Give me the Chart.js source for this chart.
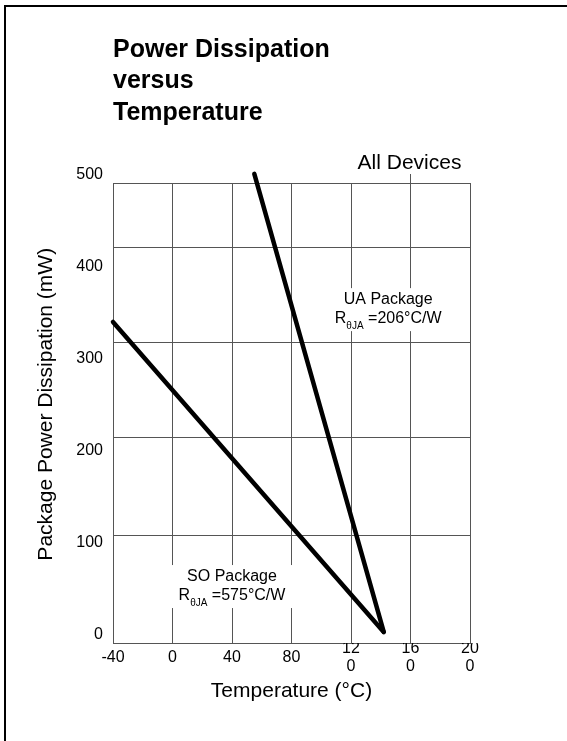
<!DOCTYPE html>
<html>
<head>
<meta charset="utf-8">
<script src="https://cdn.jsdelivr.net/npm/chart.js@4/dist/chart.umd.min.js"></script>
<style>
html,body{margin:0;padding:0;background:#fff;}
#wrap{position:relative;width:567px;height:741px;overflow:hidden;background:#fff;}
#frame{position:absolute;left:4px;top:5px;width:600px;height:800px;border-left:2px solid #000;border-top:2px solid #000;pointer-events:none;}
canvas{display:block;}
</style>
</head>
<body>
<div id="wrap"><canvas id="c" width="567" height="741"></canvas><div id="frame"></div></div>
<script>
// ---- data ----
const titleLines = ['Power Dissipation', 'versus', 'Temperature'];
const xTickValues = [-40, 0, 40, 80, 120, 160, 200];
const xTickLabels = ['-40', '0', '40', '80', ['12', '0'], ['16', '0'], ['20', '0']];
const yTickValues = [0, 100, 200, 300, 400, 500];
const yTickLabels = ['0', '100', '200', '300', '400', '500'];
const yGridValues = [0, 117, 223, 327, 430, 500];
const uaTemps = [55, 142];
const uaPower = [510, 12];
const soTemps = [-40, 142];
const soPower = [349, 12];

const FONT = "'Liberation Sans', Arial, Helvetica, sans-serif";

const notes = [
  { x: 145, y: 364, head: 'UA Package', sub: '\u03B8JA', tail: ' =206\u00B0C/W' },
  { x: 40, y: 63, head: 'SO Package', sub: '\u03B8JA', tail: ' =575\u00B0C/W' }
];
const topNote = { x: 160, text: 'All Devices' };

function lineWidths(ctx, n) {
  ctx.font = '16px ' + FONT;
  const wR = ctx.measureText('R').width;
  const wT = ctx.measureText(n.tail).width;
  const wH = ctx.measureText(n.head).width;
  ctx.font = '10px ' + FONT;
  const wS = ctx.measureText(n.sub).width;
  return { wR, wS, wT, wH, total: wR + wS + wT };
}

const notePlugin = {
  id: 'notes',
  beforeDatasetsDraw(chart) {
    const { ctx, scales: { x, y } } = chart;
    ctx.save();
    notes.forEach(n => {
      const cx = x.getPixelForValue(n.x), cy = y.getPixelForValue(n.y);
      const w = lineWidths(ctx, n);
      const bw = Math.max(w.total, w.wH) + 16;
      ctx.fillStyle = '#fff';
      ctx.fillRect(cx - bw / 2, cy - 20, bw, 43);
    });
    ctx.restore();
  },
  afterDatasetsDraw(chart) {
    const { ctx, chartArea, scales: { x, y } } = chart;
    ctx.save();
    ctx.fillStyle = '#000';
    ctx.textBaseline = 'alphabetic';
    notes.forEach(n => {
      const cx = x.getPixelForValue(n.x), cy = y.getPixelForValue(n.y);
      const w = lineWidths(ctx, n);
      ctx.font = '16px ' + FONT;
      ctx.textAlign = 'center';
      ctx.fillText(n.head, cx, cy - 4);
      ctx.textAlign = 'left';
      let sx = cx - w.total / 2;
      ctx.fillText('R', sx, cy + 15);
      sx += w.wR;
      ctx.font = '10px ' + FONT;
      ctx.fillText(n.sub, sx, cy + 20.7);
      sx += w.wS;
      ctx.font = '16px ' + FONT;
      ctx.fillText(n.tail, sx, cy + 15);
    });
    // "All Devices" label and its small tick above the frame
    const tx = x.getPixelForValue(topNote.x);
    ctx.font = '21px ' + FONT;
    ctx.textAlign = 'center';
    ctx.fillText(topNote.text, tx - 1, chartArea.top - 14);
    ctx.strokeStyle = '#555';
    ctx.lineWidth = 1;
    ctx.beginPath();
    ctx.moveTo(tx, chartArea.top - 9);
    ctx.lineTo(tx, chartArea.top);
    ctx.stroke();
    ctx.restore();
  }
};

const lineStyle = {
  showLine: true, borderColor: '#000', backgroundColor: '#000', borderWidth: 4.5,
  pointRadius: 0, pointHoverRadius: 0, clip: false,
  borderCapStyle: 'round', borderJoinStyle: 'round', tension: 0
};

new Chart(document.getElementById('c'), {
  type: 'scatter',
  data: {
    datasets: [
      Object.assign({ label: 'UA Package', data: uaTemps.map((t, i) => ({ x: t, y: uaPower[i] })) }, lineStyle),
      Object.assign({ label: 'SO Package', data: soTemps.map((t, i) => ({ x: t, y: soPower[i] })) }, lineStyle)
    ]
  },
  options: {
    responsive: false,
    animation: false,
    devicePixelRatio: 1,
    layout: { padding: { left: 0, right: 97, top: 0, bottom: 0 } },
    plugins: {
      legend: { display: false },
      tooltip: { enabled: false },
      title: {
        display: true, text: titleLines, align: 'start', fullSize: false, color: '#000',
        font: { family: FONT, size: 25, weight: 'bold', lineHeight: 1.25 },
        padding: { top: 34.5, bottom: 54.75 }
      }
    },
    scales: {
      x: {
        type: 'linear', min: -40, max: 200,
        afterBuildTicks: s => { s.ticks = xTickValues.map(v => ({ value: v })); },
        afterFit: s => { s.height = 98; },
        ticks: {
          autoSkip: false, maxRotation: 0, minRotation: 0, padding: 6, crossAlign: 'center', color: '#000',
          font: { family: FONT, size: 16, lineHeight: 1.125 },
          callback: v => { const i = xTickValues.indexOf(v); return i >= 0 ? xTickLabels[i] : ''; }
        },
        grid: { color: '#555', lineWidth: 1, drawTicks: false },
        border: { display: true, color: '#555', width: 1 },
        title: {
          display: true, text: 'Temperature (\u00B0C)', color: '#000',
          font: { family: FONT, size: 21, lineHeight: 1.2 }, padding: { top: 0, bottom: 37 }
        }
      },
      y: {
        type: 'linear', min: 0, max: 500,
        afterBuildTicks: s => {
          const vals = Array.from(new Set(yTickValues.concat(yGridValues))).sort((a, b) => a - b);
          s.ticks = vals.map(v => ({ value: v }));
        },
        afterFit: s => { s.width = 113; },
        ticks: {
          autoSkip: false, padding: 10, labelOffset: -8, color: '#000',
          font: { family: FONT, size: 16 },
          callback: v => { const i = yTickValues.indexOf(v); return i >= 0 ? yTickLabels[i] : ''; }
        },
        grid: {
          drawTicks: false, lineWidth: 1,
          color: c => (c.tick && yGridValues.includes(c.tick.value)) ? '#555' : 'rgba(0,0,0,0)'
        },
        border: { display: true, color: '#555', width: 1 },
        title: {
          display: true, text: '   Package Power Dissipation (mW)', color: '#000',
          font: { family: FONT, size: 21, lineHeight: 1.2 }, padding: { top: 33.5, bottom: 0 }
        }
      }
    }
  },
  plugins: [notePlugin]
});
</script>
</body>
</html>
